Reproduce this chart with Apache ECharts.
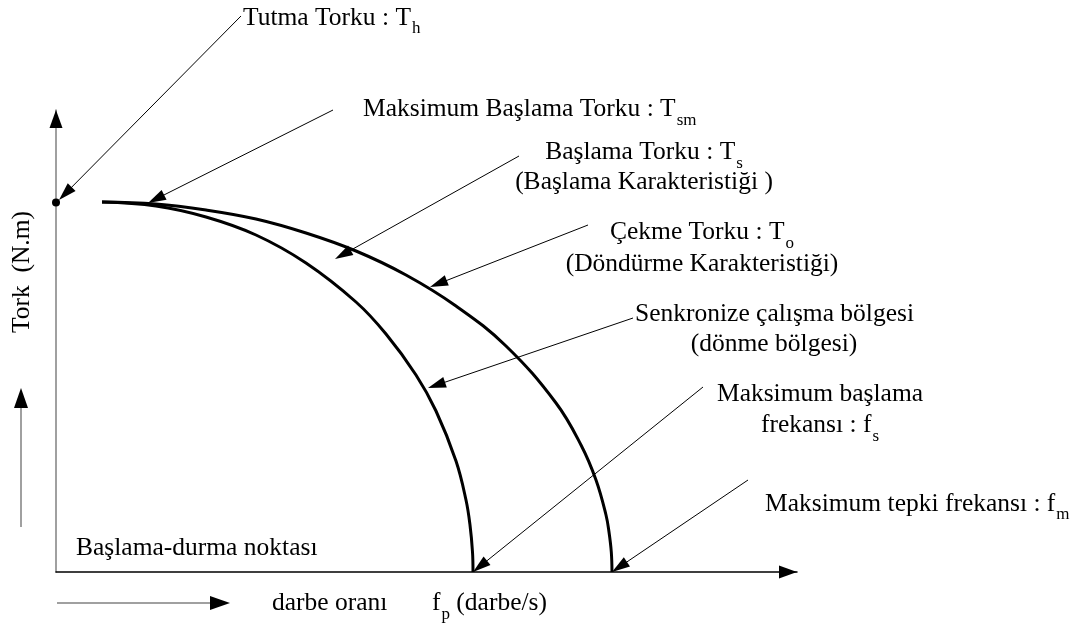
<!DOCTYPE html>
<html>
<head>
<meta charset="utf-8">
<script src="https://cdn.jsdelivr.net/npm/echarts@6/dist/echarts.min.js"></script>
<style>
  html, body { margin: 0; padding: 0; background: #fff; }
  #chart { width: 1084px; height: 629px; }
</style>
</head>
<body>
<div id="chart"></div>
<script>
// ---- Data (arbitrary units: x = pulse rate, y = torque) ----
// Starting torque curve Ts (inner curve)
const startCurve = [
  [46, 370], [100, 366], [150, 355], [200, 337], [250, 309], [300, 270],
  [330, 238], [360, 197], [380, 161], [400, 111], [410, 72], [414, 47],
  [416.5, 20], [417, 0]
];
// Pull-out torque curve To (outer curve)
const pullOutCurve = [
  [46, 370], [100, 368], [150, 362], [200, 353], [250, 339], [300, 321],
  [350, 297], [400, 266], [450, 226], [500, 169], [525, 127], [540, 92],
  [550, 57], [553, 40], [555.3, 20], [556, 0]
];
// Holding torque point Th on the torque axis
const holdingPoint = [[0, 369.5]];
// Annotation arrows: [fromX, fromY, toX, toY]
const annotationArrows = [
  [185, 556, 3, 372],     // Tutma Torku
  [277, 462, 92, 369],    // Maksimum Başlama Torku
  [463, 416, 279, 313],   // Başlama Torku
  [532, 347, 374, 285],   // Çekme Torku
  [577, 254, 372, 184],   // Senkronize çalışma bölgesi
  [647, 185, 417, 0],     // Maksimum başlama frekansı
  [692, 92, 556, 0]       // Maksimum tepki frekansı
];
// Direction guide arrows (below x axis / left of y axis)
const guideArrows = [
  [1, -31, 174, -31],
  [-35, 45, -35, 184]
];
// Axis arrow heads
const axisHeads = [
  [0, 440, 0, 462],
  [720, 0, 741, 0]
];
const axisRange = { xMax: 741, yMax: 462 };

// Texts
const texts = {
  tutma: '{m|Tutma Torku : T}{s|h}',
  maxBaslama: '{m|Maksimum Başlama Torku : T}{s|sm}',
  baslama1: '{m|Başlama Torku : T}{s|s}',
  baslama2: '(Başlama Karakteristiği )',
  cekme1: '{m|Çekme Torku : T}{s|o}',
  cekme2: '(Döndürme Karakteristiği)',
  senk1: 'Senkronize çalışma bölgesi',
  senk2: '(dönme bölgesi)',
  fs1: 'Maksimum başlama',
  fs2: '{m|frekansı : f}{s|s}',
  fm: '{m|Maksimum tepki frekansı : f}{s|m}',
  durma: 'Başlama-durma noktası',
  xName1: 'darbe oranı',
  xName2: '{m|f}{s|p}{m| (darbe/s)}',
  yName: 'Tork  (N.m)'
};

const FONT = '"Liberation Serif", "Times New Roman", serif';
const FS = 25.5;
const rich = {
  m: { fontSize: FS, fontFamily: FONT, fill: '#000' },
  s: { fontSize: 17, fontFamily: FONT, fill: '#000', padding: [22, 0, 0, 1] }
};
function txt(text, x, y, align, rotation) {
  return {
    type: 'text', x: x, y: y, rotation: rotation || 0, z: 100,
    style: {
      text: text, rich: rich, fill: '#000',
      font: FS + 'px ' + FONT, fontSize: FS, fontFamily: FONT,
      align: align, verticalAlign: 'middle',
      textAlign: align, textVerticalAlign: 'middle'
    }
  };
}

function arrowRender(opt) {
  return function (params, api) {
    const p1 = api.coord([api.value(0), api.value(1)]);
    const p2 = api.coord([api.value(2), api.value(3)]);
    const dx = p2[0] - p1[0], dy = p2[1] - p1[1];
    const len = Math.sqrt(dx * dx + dy * dy) || 1;
    const ux = dx / len, uy = dy / len;
    const bx = p2[0] - ux * opt.headLen, by = p2[1] - uy * opt.headLen;
    const nx = -uy * opt.headW / 2, ny = ux * opt.headW / 2;
    const children = [];
    if (opt.line) {
      children.push({
        type: 'line',
        shape: { x1: p1[0], y1: p1[1], x2: bx + ux * 2, y2: by + uy * 2 },
        style: { stroke: opt.color, lineWidth: opt.lw }
      });
    }
    children.push({
      type: 'polygon',
      shape: { points: [[p2[0], p2[1]], [bx + nx, by + ny], [bx - nx, by - ny]] },
      style: { fill: '#000' }
    });
    return { type: 'group', children: children };
  };
}

const chart = echarts.init(document.getElementById('chart'), null, { renderer: 'canvas' });
chart.setOption({
  animation: false,
  backgroundColor: '#fff',
  grid: { left: 56, top: 110, right: 1084 - 797, bottom: 629 - 572 },
  xAxis: {
    type: 'value', min: 0, max: axisRange.xMax,
    axisLine: { show: true, onZero: false, lineStyle: { color: '#000', width: 1.5 } },
    axisTick: { show: false }, axisLabel: { show: false }, splitLine: { show: false }
  },
  yAxis: {
    type: 'value', min: 0, max: axisRange.yMax,
    axisLine: { show: true, onZero: false, lineStyle: { color: '#808080', width: 1.5 } },
    axisTick: { show: false }, axisLabel: { show: false }, splitLine: { show: false }
  },
  series: [
    {
      type: 'line', data: startCurve, smooth: 0.4, showSymbol: false,
      lineStyle: { color: '#000', width: 3 }, z: 3
    },
    {
      type: 'line', data: pullOutCurve, smooth: 0.4, showSymbol: false,
      lineStyle: { color: '#000', width: 3 }, z: 3
    },
    {
      type: 'scatter', data: holdingPoint, symbolSize: 8, clip: false,
      itemStyle: { color: '#000', opacity: 1 }, z: 5
    },
    {
      type: 'custom', data: annotationArrows, clip: false, z: 6,
      renderItem: arrowRender({ line: true, color: '#000', lw: 1, headLen: 18, headW: 11 })
    },
    {
      type: 'custom', data: guideArrows, clip: false, z: 6,
      renderItem: arrowRender({ line: true, color: '#808080', lw: 1.5, headLen: 20, headW: 14 })
    },
    {
      type: 'custom', data: axisHeads, clip: false, z: 6,
      renderItem: arrowRender({ line: false, headLen: 18, headW: 13 })
    }
  ],
  graphic: [
    txt(texts.tutma, 243, 18, 'left'),
    txt(texts.maxBaslama, 363, 109.5, 'left'),
    txt(texts.baslama1, 644, 152.5, 'center'),
    txt(texts.baslama2, 644, 182.5, 'center'),
    txt(texts.cekme1, 702, 232.5, 'center'),
    txt(texts.cekme2, 702, 264.5, 'center'),
    txt(texts.senk1, 635, 314.5, 'left'),
    txt(texts.senk2, 774, 344.5, 'center'),
    txt(texts.fs1, 820, 394.5, 'center'),
    txt(texts.fs2, 820, 425.5, 'center'),
    txt(texts.fm, 765, 504, 'left'),
    txt(texts.durma, 76, 548.5, 'left'),
    txt(texts.xName1, 272, 603.5, 'left'),
    txt(texts.xName2, 432, 603.5, 'left'),
    txt(texts.yName, 22, 272, 'center', Math.PI / 2)
  ]
});
</script>
</body>
</html>
